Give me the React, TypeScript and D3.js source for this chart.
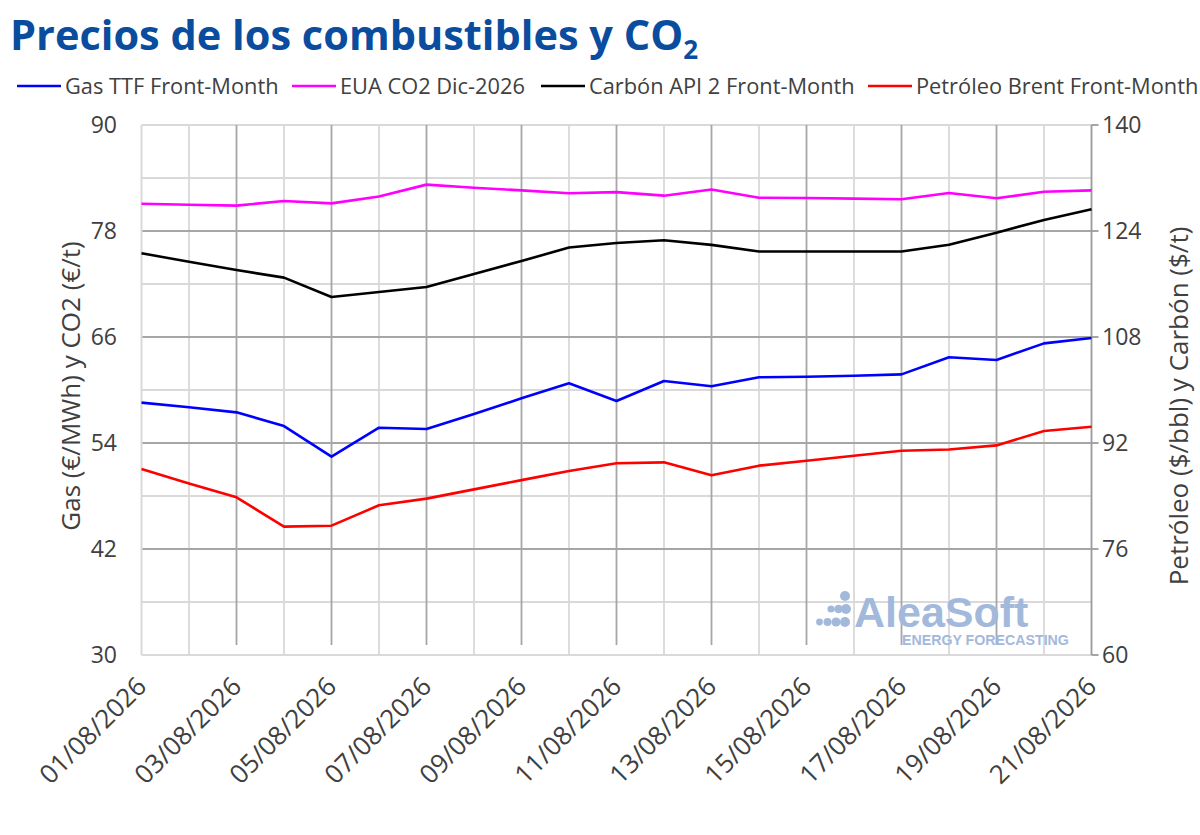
import React from 'react';
import * as d3 from 'd3';

const dates = [
  '01/08/2026', '02/08/2026', '03/08/2026', '04/08/2026', '05/08/2026', '06/08/2026', '07/08/2026',
  '08/08/2026', '09/08/2026', '10/08/2026', '11/08/2026', '12/08/2026', '13/08/2026', '14/08/2026',
  '15/08/2026', '16/08/2026', '17/08/2026', '18/08/2026', '19/08/2026', '20/08/2026', '21/08/2026',
];
const gasTTF = [58.57, 58.04, 57.47, 55.92, 52.45, 55.73, 55.58, 57.28, 59.06, 60.76, 58.75, 61.02, 60.42, 61.44, 61.5, 61.62, 61.77, 63.7, 63.4, 65.28, 65.89];
const euaCO2 = [81.09, 80.98, 80.87, 81.4, 81.13, 81.9, 83.25, 82.9, 82.6, 82.27, 82.4, 82.0, 82.7, 81.77, 81.74, 81.66, 81.6, 82.3, 81.7, 82.45, 82.6];
const coalAPI2 = [120.63, 119.37, 118.1, 116.96, 114.04, 114.8, 115.55, 117.5, 119.47, 121.5, 122.2, 122.6, 121.9, 120.9, 120.9, 120.9, 120.9, 121.93, 123.75, 125.66, 127.27];
const brent = [88.08, 85.9, 83.8, 79.37, 79.52, 82.6, 83.6, 85.0, 86.4, 87.77, 88.95, 89.08, 87.12, 88.58, 89.33, 90.08, 90.83, 91.03, 91.64, 93.8, 94.46];

const leftTicks = [30, 42, 54, 66, 78, 90];
const leftMinor = [36, 48, 60, 72, 84];
const rightTicks = [60, 76, 92, 108, 124, 140];

const seriesNames = ['Gas TTF Front-Month', 'EUA CO2 Dic-2026', 'Carbón API 2 Front-Month', 'Petróleo Brent Front-Month'];
const seriesColors = ['#0000ff', '#ff00ff', '#000000', '#ff0000'];

const W = 1200;
const H = 835;
const PL = 141.5;
const PR = 1091.5;
const PT = 125;
const PB = 655;

const FONT = "'Open Sans', 'DejaVu Sans', sans-serif";
const TXT = '#404040';
const LIGHT = '#d9d9d9';
const DARK = '#a6a6a6';

export default function App() {
  const x = d3.scalePoint<string>().domain(dates).range([PL, PR]);
  const yL = d3.scaleLinear().domain([30, 90]).range([PB, PT]);
  const yR = d3.scaleLinear().domain([60, 140]).range([PB, PT]);

  const lineL = d3.line<number>().x((_, i) => x(dates[i]) as number).y((d) => yL(d));
  const lineR = d3.line<number>().x((_, i) => x(dates[i]) as number).y((d) => yR(d));

  const paths = [
    { d: lineL(euaCO2), c: seriesColors[1] },
    { d: lineR(coalAPI2), c: seriesColors[2] },
    { d: lineL(gasTTF), c: seriesColors[0] },
    { d: lineR(brent), c: seriesColors[3] },
  ];

  const legendX = [17, 292, 541, 868];

  const dots = [
    { cx: 845, cy: 596, r: 5 },
    { cx: 831, cy: 609, r: 3.6 },
    { cx: 838.5, cy: 609, r: 4.3 },
    { cx: 846, cy: 609, r: 5 },
    { cx: 819.5, cy: 622, r: 3.4 },
    { cx: 827.5, cy: 622, r: 4 },
    { cx: 836, cy: 622, r: 4.6 },
    { cx: 845, cy: 622, r: 5 },
  ];

  return (
    <svg
      width={W}
      height={H}
      viewBox={`0 0 ${W} ${H}`}
      style={{ position: 'absolute', left: 0, top: 0, display: 'block', background: '#fff' }}
    >
      <rect x={0} y={0} width={W} height={H} fill="#fff" />
      {/* Title */}
      <text x={10} y={50} fontFamily={FONT} fontWeight={700} fontSize={41.5} fill="#0a4c9d">
        Precios de los combustibles y CO
        <tspan fontSize={26} dy={9}>2</tspan>
      </text>

      {/* Legend */}
      {seriesNames.map((n, i) => (
        <g key={n}>
          <line x1={legendX[i]} x2={legendX[i] + 44} y1={86} y2={86} stroke={seriesColors[i]} strokeWidth={2.6} />
          <text x={legendX[i] + 48} y={93.5} fontFamily={FONT} fontSize={21.8} fill={TXT}>{n}</text>
        </g>
      ))}

      {/* Horizontal gridlines */}
      {leftMinor.map((v) => (
        <line key={'hm' + v} x1={PL} x2={PR} y1={yL(v)} y2={yL(v)} stroke={LIGHT} strokeWidth={1.8} />
      ))}
      <line x1={PL} x2={PR} y1={yL(90)} y2={yL(90)} stroke={LIGHT} strokeWidth={1.8} />
      <line x1={PL} x2={PR} y1={yL(30)} y2={yL(30)} stroke={LIGHT} strokeWidth={1.8} />

      {/* Vertical gridlines */}
      {dates.map((d, i) =>
        i % 2 === 1 ? (
          <line key={'v' + d} x1={x(d)} x2={x(d)} y1={PT} y2={PB} stroke={LIGHT} strokeWidth={1.8} />
        ) : null
      )}
      {dates.map((d, i) =>
        i % 2 === 0 && i > 0 && i < dates.length - 1 ? (
          <line key={'vd' + d} x1={x(d)} x2={x(d)} y1={PT} y2={PB - 10} stroke={DARK} strokeWidth={1.8} />
        ) : null
      )}
      {leftTicks.filter((v) => v !== 30 && v !== 90).map((v) => (
        <line key={'hM' + v} x1={PL} x2={PR} y1={yL(v)} y2={yL(v)} stroke={DARK} strokeWidth={1.8} />
      ))}
      {/* left axis line */}
      <line x1={PL} x2={PL} y1={PT} y2={PB} stroke={LIGHT} strokeWidth={2} />
      {/* right axis line and ticks */}
      <line x1={PR} x2={PR} y1={PT} y2={PB} stroke="#9a9a9a" strokeWidth={1.8} />
      {rightTicks.map((v) => (
        <line key={'rt' + v} x1={PR} x2={PR + 7} y1={yR(v)} y2={yR(v)} stroke="#9a9a9a" strokeWidth={1.8} />
      ))}

      {/* Watermark */}
      <g fill="#a3b9db">
        {dots.map((p, i) => (
          <circle key={'dot' + i} cx={p.cx} cy={p.cy} r={p.r} />
        ))}
        <text x={854} y={627} fontFamily="'Liberation Sans', Arial, sans-serif" fontWeight={700} fontSize={43}>AleaSoft</text>
        <text x={902} y={644.5} fontFamily="'Liberation Sans', Arial, sans-serif" fontWeight={700} fontSize={14.2}>ENERGY FORECASTING</text>
      </g>

      {/* Series */}
      {paths.map((p, i) => (
        <path key={'s' + i} d={p.d || ''} fill="none" stroke={p.c} strokeWidth={2.6} strokeLinejoin="round" />
      ))}

      {/* Left tick labels */}
      {leftTicks.map((v) => (
        <text key={'lt' + v} x={117} y={yL(v)} dy="0.36em" textAnchor="end" fontFamily={FONT} fontSize={23} fill={TXT}>
          {v}
        </text>
      ))}
      {/* Right tick labels */}
      {rightTicks.map((v) => (
        <text key={'rtl' + v} x={1102} y={yR(v)} dy="0.36em" textAnchor="start" fontFamily={FONT} fontSize={23} fill={TXT}>
          {v}
        </text>
      ))}

      {/* X labels */}
      {dates.map((d, i) =>
        i % 2 === 0 ? (
          <text
            key={'xl' + d}
            transform={`translate(${(x(d) as number) + 6.5},${688}) rotate(-45)`}
            textAnchor="end"
            fontFamily={FONT}
            fontSize={26}
            fill={TXT}
          >
            {d}
          </text>
        ) : null
      )}

      {/* Axis titles */}
      <text
        transform={`translate(${80},${386}) rotate(-90)`}
        textAnchor="middle"
        fontFamily={FONT}
        fontSize={26}
        fill={TXT}
      >
        Gas (€/MWh) y CO2 (€/t)
      </text>
      <text
        transform={`translate(${1188},${406}) rotate(-90)`}
        textAnchor="middle"
        fontFamily={FONT}
        fontSize={26}
        fill={TXT}
      >
        Petróleo ($/bbl) y Carbón ($/t)
      </text>
    </svg>
  );
}
